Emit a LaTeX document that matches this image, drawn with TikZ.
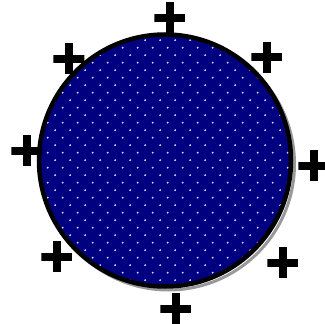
\documentclass[tikz,border=0pt]{standalone}
\begin{document}
\begin{tikzpicture}[x=1pt,y=-1pt,
  charge/.style={minimum size=31pt,inner sep=0pt,
    path picture={\fill[black]
      ([xshift=-4pt]path picture bounding box.north) rectangle ([xshift=4pt]path picture bounding box.south);
      \fill[black]
      ([yshift=-4pt]path picture bounding box.west) rectangle ([yshift=4pt]path picture bounding box.east);}},
  ball/.style={circle,minimum size=252pt,inner sep=0pt}]
\useasboundingbox (0,0) rectangle (325,324);
\definecolor{navyfill}{RGB}{0,0,128}
\definecolor{dotcol}{RGB}{215,220,255}
% shadow
\node[ball,draw=gray!80,line width=3pt] (shadow) at (168.5,164) {};
% sphere
\node[ball,fill=navyfill] (sphere) at (165,160.5) {};
\begin{scope}
  \clip (165,160.5) circle (126);
  \foreach \j in {0,...,36}{
    \foreach \m in {-7,...,12}{
      \pgfmathsetmacro{\yy}{32.7+7.5*\j}
      \pgfmathsetmacro{\xx}{122.7+7.5*mod(\j,2)+15*\m}
      \fill[dotcol] (\xx,\yy) circle (1.05);
    }
  }
\end{scope}
\node[ball,draw=black,line width=4.5pt] (rim) at (165,160.5) {};
% charges
\node[charge] (c1) at (170,18) {};
\node[charge] (c2) at (267,57.5) {};
\node[charge] (c3) at (314,166) {};
\node[charge] (c4) at (283,263) {};
\node[charge] (c5) at (176,309) {};
\node[charge] (c6) at (57,257) {};
\node[charge] (c7) at (27,151) {};
\node[charge] (c8) at (69,59) {};
\end{tikzpicture}
\end{document}
